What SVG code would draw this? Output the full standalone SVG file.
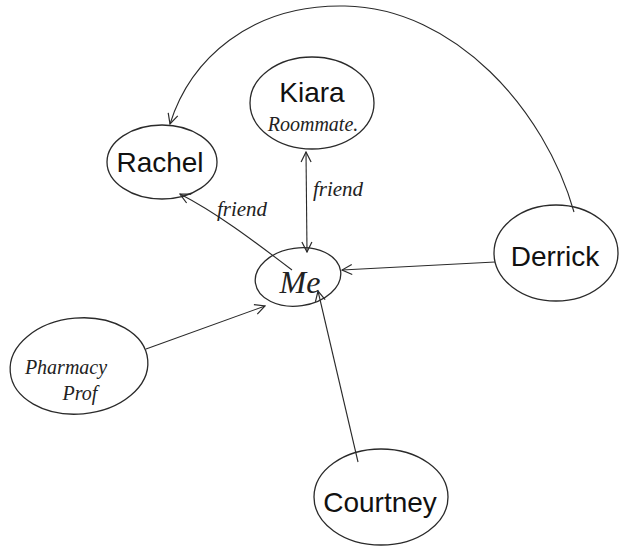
<svg xmlns="http://www.w3.org/2000/svg" width="629" height="550" viewBox="0 0 629 550">
  <style>
    .node { fill: none; stroke: #2a2a2a; stroke-width: 1.3; }
    .edge { fill: none; stroke: #2a2a2a; stroke-width: 1.1; }
    .name { font-family: "Liberation Sans", Arial, sans-serif; font-size: 28px; fill: #111; text-anchor: middle; }
    .hand { font-family: "Liberation Serif", serif; font-style: italic; fill: #222; text-anchor: middle; }
  </style>
  <defs>
    <marker id="arrow" viewBox="0 0 12 12" refX="11" refY="6" markerWidth="12" markerHeight="12" markerUnits="userSpaceOnUse" orient="auto-start-reverse">
      <path d="M1,1 L11,6 L1,11" fill="none" stroke="#2a2a2a" stroke-width="1.2"/>
    </marker>
  </defs>
  <rect width="629" height="550" fill="#fff"/>

  <g id="connectors">
    <!-- Rachel <- Me -->
    <path class="edge" d="M292,270 C250,238 215,212 180,194" marker-end="url(#arrow)"/>
    <!-- Kiara <-> Me -->
    <path class="edge" d="M306,152 L307,252" marker-start="url(#arrow)" marker-end="url(#arrow)"/>
    <!-- Derrick -> Me -->
    <path class="edge" d="M495,262 L342,270" marker-end="url(#arrow)"/>
    <!-- Pharmacy Prof -> Me -->
    <path class="edge" d="M146,349 L265,306" marker-end="url(#arrow)"/>
    <!-- Courtney -> Me -->
    <path class="edge" d="M358,462 L318,291" marker-end="url(#arrow)"/>
    <!-- Derrick -> Rachel (long arc over the top) -->
    <path class="edge" d="M574,212 C545,110 455,8 345,6 C250,4 190,60 170,124" marker-end="url(#arrow)"/>
  </g>

  <g id="label-friend-rachel"><text class="hand" x="242" y="216" font-size="21">friend</text></g>
  <g id="label-friend-kiara"><text class="hand" x="338" y="196" font-size="21">friend</text></g>

  <g id="node-kiara">
    <ellipse class="node" cx="312" cy="103" rx="62" ry="46"/>
    <text class="name" x="312" y="102" font-size="30">Kiara</text>
    <text class="hand" x="313" y="131" font-size="20">Roommate.</text>
  </g>

  <g id="node-rachel">
    <ellipse class="node" cx="162" cy="162" rx="55" ry="37"/>
    <text class="name" x="160" y="172">Rachel</text>
  </g>

  <g id="node-me">
    <ellipse class="node" cx="298" cy="277" rx="43" ry="29" transform="rotate(-8 298 277)"/>
    <text class="hand" x="300" y="293" font-size="32">Me</text>
  </g>

  <g id="node-derrick">
    <ellipse class="node" cx="556" cy="253" rx="62" ry="48"/>
    <text class="name" x="555" y="266">Derrick</text>
  </g>

  <g id="node-pharmacy-prof">
    <ellipse class="node" cx="79" cy="366" rx="69" ry="48" transform="rotate(-5 79 366)"/>
    <text class="hand" x="66" y="374" font-size="20">Pharmacy</text>
    <text class="hand" x="80" y="400" font-size="20">Prof</text>
  </g>

  <g id="node-courtney">
    <ellipse class="node" cx="381" cy="497" rx="67" ry="48"/>
    <text class="name" x="380" y="512">Courtney</text>
  </g>
</svg>
